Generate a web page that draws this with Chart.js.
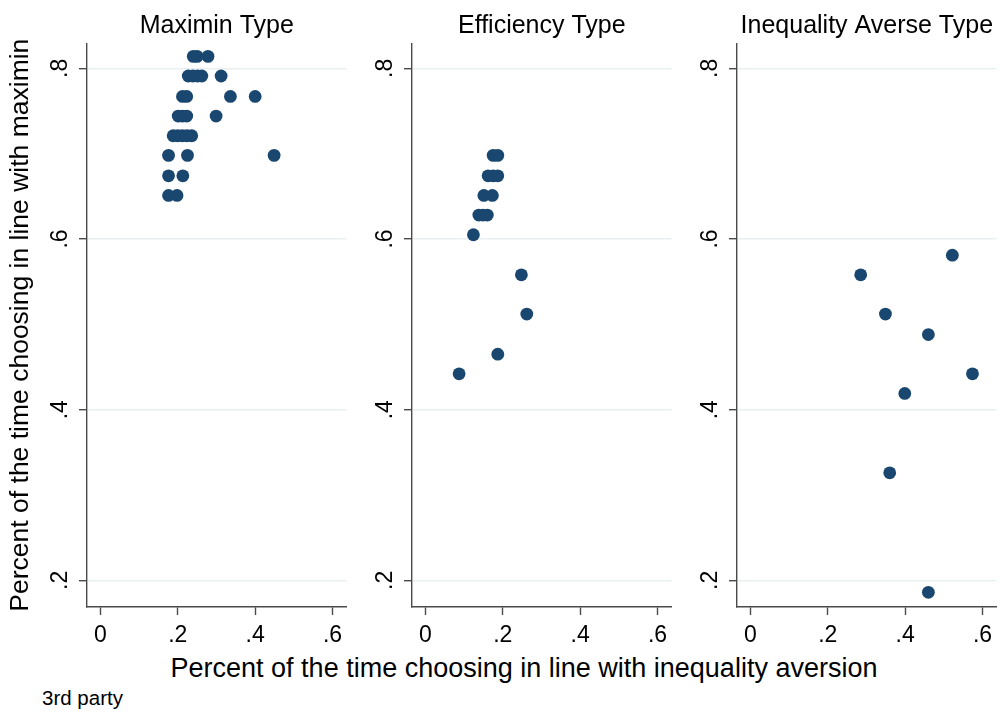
<!DOCTYPE html>
<html>
<head>
<meta charset="utf-8">
<title>Types: maximin vs inequality aversion</title>
<script src="https://cdn.jsdelivr.net/npm/chart.js@4.4.1/dist/chart.umd.min.js"></script>
<style>
  html, body { margin: 0; padding: 0; background: #fff; }
  #wrap { position: relative; width: 1006px; height: 713px; overflow: hidden; font-family: "Liberation Sans", Arial, sans-serif; }
  #wrap canvas { position: absolute; top: 0; }
  .txt { position: absolute; color: #000; line-height: 1; white-space: nowrap; }
  #xTitle { top: 655px; left: 524px; font-size: 27px; transform: translateX(-50%); }
  #note { top: 688px; left: 42px; font-size: 20.5px; }
</style>
</head>
<body>
<div id="wrap">
  <canvas id="panel0" width="353" height="650" style="left:0px"></canvas>
  <canvas id="panel1" width="353" height="650" style="left:325px"></canvas>
  <canvas id="panel2" width="353" height="650" style="left:650px"></canvas>
  <div class="txt" id="xTitle">Percent of the time choosing in line with inequality aversion</div>
  <div class="txt" id="note">3rd party</div>
</div>
<script>
// Panel titles and axis labels
const panelTitles = ['Maximin Type', 'Efficiency Type', 'Inequality Averse Type'];
const yTitle = 'Percent of the time choosing in line with maximin';
const xTickValues = [0, 0.2, 0.4, 0.6];
const yTickValues = [0.2, 0.4, 0.6, 0.8];

// Maximin type subjects
const maximinX = [0.240, 0.250, 0.278,
                  0.227, 0.239, 0.251, 0.262, 0.312,
                  0.212, 0.223, 0.336, 0.400,
                  0.201, 0.212, 0.223, 0.299,
                  0.188, 0.200, 0.212, 0.224, 0.236,
                  0.176, 0.225, 0.449,
                  0.176, 0.213,
                  0.176, 0.198];
const maximinY = [0.814, 0.814, 0.814,
                  0.791, 0.791, 0.791, 0.791, 0.791,
                  0.767, 0.767, 0.767, 0.767,
                  0.744, 0.744, 0.744, 0.744,
                  0.721, 0.721, 0.721, 0.721, 0.721,
                  0.698, 0.698, 0.698,
                  0.674, 0.674,
                  0.651, 0.651];

// Efficiency type subjects
const efficiencyX = [0.175, 0.187,
                     0.162, 0.175, 0.187,
                     0.151, 0.173,
                     0.138, 0.149, 0.160,
                     0.124,
                     0.248, 0.262, 0.187, 0.087];
const efficiencyY = [0.698, 0.698,
                     0.674, 0.674, 0.674,
                     0.651, 0.651,
                     0.628, 0.628, 0.628,
                     0.605,
                     0.558, 0.512, 0.465, 0.442];

// Inequality averse type subjects
const inequalityX = [0.522, 0.285, 0.349, 0.460, 0.574, 0.399, 0.360, 0.460];
const inequalityY = [0.581, 0.558, 0.512, 0.488, 0.442, 0.419, 0.326, 0.186];

const panelX = [maximinX, efficiencyX, inequalityX];
const panelY = [maximinY, efficiencyY, inequalityY];

// Stata-ish look
const markerColor = '#1a476f';
const axisColor = '#4a4a4a';
const gridColor = '#e8f0f2';

Chart.defaults.font.family = '"Liberation Sans", Arial, sans-serif';
Chart.defaults.color = '#000';

function tickText(v) {
    if (v === 0) return '0';
    return String(+v.toFixed(1)).replace(/^0\./, '.');
}

function makePanel(i) {
    const points = panelX[i].map((x, k) => ({ x: x, y: panelY[i][k] }));
    const showYTitle = i === 0;

    new Chart(document.getElementById('panel' + i), {
        type: 'scatter',
        data: {
            datasets: [{
                data: points,
                backgroundColor: markerColor,
                borderWidth: 0,
                pointRadius: 6.4,
                pointHoverRadius: 6.4
            }]
        },
        options: {
            responsive: false,
            animation: false,
            events: [],
            layout: { padding: 0 },
            plugins: {
                legend: { display: false },
                tooltip: { enabled: false },
                title: {
                    display: true,
                    text: panelTitles[i],
                    color: '#000',
                    fullSize: false,
                    font: { size: 25, weight: 'normal' },
                    padding: { top: 11.6, bottom: 1.7 }
                }
            },
            scales: {
                x: {
                    type: 'linear',
                    min: -0.0348,
                    max: 0.6364,
                    afterBuildTicks: (scale) => { scale.ticks = xTickValues.map(v => ({ value: v })); },
                    afterFit: (scale) => { scale.height = 43; },
                    ticks: {
                        callback: (v) => tickText(v),
                        font: { size: 23 },
                        padding: 7,
                        autoSkip: false,
                        maxRotation: 0,
                        includeBounds: false
                    },
                    grid: {
                        drawOnChartArea: false,
                        drawTicks: true,
                        tickLength: 8,
                        tickColor: axisColor,
                        tickWidth: 1.4
                    },
                    border: { display: true, color: axisColor, width: 1.4 }
                },
                y: {
                    type: 'linear',
                    min: 0.1688,
                    max: 0.8293,
                    afterBuildTicks: (scale) => { scale.ticks = yTickValues.map(v => ({ value: v })); },
                    afterFit: (scale) => { scale.width = 87; },
                    title: {
                        display: showYTitle,
                        text: yTitle,
                        color: '#000',
                        font: { size: 26.5 },
                        padding: { top: 5, bottom: 0 }
                    },
                    ticks: {
                        callback: (v) => tickText(v),
                        font: { size: 23 },
                        padding: 8.4,
                        minRotation: 90,
                        maxRotation: 90,
                        crossAlign: 'center',
                        autoSkip: false,
                        includeBounds: false
                    },
                    grid: {
                        color: gridColor,
                        lineWidth: 1.4,
                        drawTicks: true,
                        tickLength: 8,
                        tickColor: axisColor,
                        tickWidth: 1.4
                    },
                    border: { display: true, color: axisColor, width: 1.4 }
                }
            }
        }
    });
}

panelTitles.forEach((t, i) => makePanel(i));
</script>
</body>
</html>
